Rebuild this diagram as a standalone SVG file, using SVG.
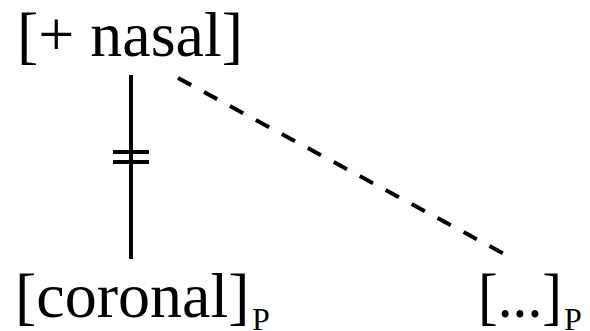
<svg xmlns="http://www.w3.org/2000/svg" width="590" height="331" viewBox="0 0 590 331">
<style>
text{font-family:"Liberation Serif","Times New Roman",serif;fill:#000}
.big{font-size:64px}
.sub{font-size:32px}
.ln{stroke:#000;stroke-width:4;fill:none}
.dash{stroke-dasharray:15 14.5}
</style>
<rect width="590" height="331" fill="#fff"/>
<g id="connectors">
<line class="ln" x1="131" y1="75" x2="131" y2="259"/>
<line class="ln" x1="113" y1="152" x2="149" y2="152"/>
<line class="ln" x1="113" y1="162" x2="149" y2="162"/>
<line class="ln dash" x1="178" y1="78" x2="506" y2="255"/>
</g>
<g id="nasal"><text class="big" x="17" y="56" textLength="226" lengthAdjust="spacingAndGlyphs">[+ nasal]</text></g>
<g id="coronal"><text class="big" x="15" y="317">[coronal]</text><text class="sub" x="252" y="330">P</text></g>
<g id="ellipsis"><text class="big" x="478" y="317" textLength="84" lengthAdjust="spacingAndGlyphs">[...]</text><text class="sub" x="564" y="330">P</text></g>
</svg>
